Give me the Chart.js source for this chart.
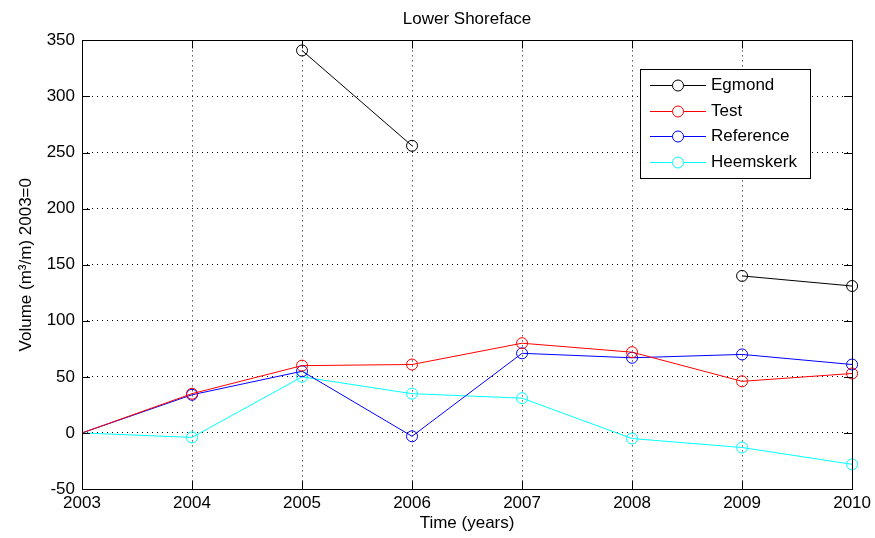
<!DOCTYPE html>
<html>
<head>
<meta charset="utf-8">
<script src="https://cdn.jsdelivr.net/npm/chart.js@4/dist/chart.umd.min.js"></script>
<style>
  html, body { margin: 0; padding: 0; background: #fff; }
</style>
</head>
<body>
<canvas id="chart" width="875" height="538"></canvas>
<script>
// values (m3/m, relative to 2003)
const years = [2003, 2004, 2005, 2006, 2007, 2008, 2009, 2010];
const egmond = [null, null, 341, 256, null, null, 140, 131];
const test = [0, 35, 60, 61, 80, 72, 46, 53];
const reference = [0, 34, 55, -3, 71, 67, 70, 61];
const heemskerk = [0, -4, 50, 35, 31, -5, -13, -28];

const seriesNames = ['Egmond', 'Test', 'Reference', 'Heemskerk'];
const seriesColors = ['#000000', '#ff0000', '#0000ff', '#00ffff'];
const seriesValues = [egmond, test, reference, heemskerk];

const FONT = 'Liberation Sans, Arial, sans-serif';
Chart.defaults.font.family = FONT;
Chart.defaults.font.size = 17;
Chart.defaults.color = '#000';

function toPoints(values) {
  return values.map((v, i) => ({ x: years[i], y: v }));
}

// box round the plot area with inward ticks, like a matlab axes
const axesBox = {
  id: 'axesBox',
  afterDatasetsDraw(chart) {
    const { ctx, chartArea: a, scales } = chart;
    const len = 8;
    ctx.save();
    ctx.strokeStyle = '#000';
    ctx.lineWidth = 1;
    ctx.beginPath();
    scales.x.ticks.forEach(t => {
      const px = Math.round(scales.x.getPixelForValue(t.value)) + 0.5;
      ctx.moveTo(px, a.bottom); ctx.lineTo(px, a.bottom - len);
      ctx.moveTo(px, a.top); ctx.lineTo(px, a.top + len);
    });
    scales.y.ticks.forEach(t => {
      const py = Math.round(scales.y.getPixelForValue(t.value)) + 0.5;
      ctx.moveTo(a.left, py); ctx.lineTo(a.left + len, py);
      ctx.moveTo(a.right, py); ctx.lineTo(a.right - len, py);
    });
    ctx.stroke();
    ctx.strokeRect(Math.round(a.left) + 0.5, Math.round(a.top) + 0.5,
      Math.round(a.right - a.left), Math.round(a.bottom - a.top));
    ctx.restore();
  }
};

// legend in the upper right corner of the plot area
const legendBox = {
  id: 'legendBox',
  afterDraw(chart) {
    const { ctx, chartArea: a } = chart;
    const w = 170, h = 109;
    const x = Math.round(a.right - 42 - w), y = Math.round(a.top + 29);
    ctx.save();
    ctx.fillStyle = '#fff';
    ctx.fillRect(x, y, w, h);
    ctx.strokeStyle = '#000';
    ctx.lineWidth = 1;
    ctx.strokeRect(x + 0.5, y + 0.5, w, h);
    ctx.font = '17px ' + FONT;
    ctx.textBaseline = 'middle';
    chart.data.datasets.forEach((ds, i) => {
      const cy = Math.round(y + 16 + i * 25.5) + 0.5;
      ctx.strokeStyle = ds.borderColor;
      ctx.beginPath();
      ctx.moveTo(x + 10, cy); ctx.lineTo(x + 66, cy);
      ctx.stroke();
      ctx.beginPath();
      ctx.arc(x + 38, cy, 5.5, 0, Math.PI * 2);
      ctx.fillStyle = '#fff';
      ctx.fill();
      ctx.stroke();
      ctx.fillStyle = '#000';
      ctx.fillText(ds.label, x + 71, cy);
    });
    ctx.restore();
  }
};

new Chart(document.getElementById('chart'), {
  type: 'line',
  data: {
    datasets: seriesNames.map((name, i) => ({
      label: name,
      data: toPoints(seriesValues[i]),
      borderColor: seriesColors[i],
      backgroundColor: 'rgba(0,0,0,0)',
      borderWidth: 1,
      // the 2003 reference point has no marker in the figure
      pointRadius: c => (c.dataIndex === 0 ? 0 : 5.5),
      pointHoverRadius: c => (c.dataIndex === 0 ? 0 : 5.5),
      pointBorderWidth: 1,
      pointBackgroundColor: 'rgba(0,0,0,0)',
      tension: 0,
      spanGaps: false,
      clip: false
    }))
  },
  options: {
    responsive: false,
    animation: false,
    devicePixelRatio: 1,
    layout: { padding: { top: 0, right: 21, bottom: 0, left: 0 } },
    plugins: {
      legend: { display: false },
      tooltip: { enabled: false },
      title: {
        display: true,
        fullSize: false,
        text: 'Lower Shoreface',
        font: { size: 17, weight: 'normal' },
        color: '#000',
        padding: { top: 9, bottom: 11 }
      }
    },
    scales: {
      x: {
        type: 'linear',
        min: 2003,
        max: 2010,
        afterFit: s => { s.height = 49; },
        ticks: { stepSize: 1, padding: 4, callback: v => String(v), maxRotation: 0 },
        grid: { color: '#000', drawTicks: false },
        border: { display: false, dash: [1, 4] },
        title: { display: true, text: 'Time (years)', padding: { top: 0, bottom: 4 } }
      },
      y: {
        min: -50,
        max: 350,
        afterFit: s => { s.width = 82; },
        ticks: { stepSize: 50, padding: 7 },
        grid: { color: '#000', drawTicks: false },
        border: { display: false, dash: [1, 4] },
        title: { display: true, text: 'Volume (m³/m) 2003=0', padding: { top: 16, bottom: 0 } }
      }
    }
  },
  plugins: [axesBox, legendBox]
});
</script>
</body>
</html>
